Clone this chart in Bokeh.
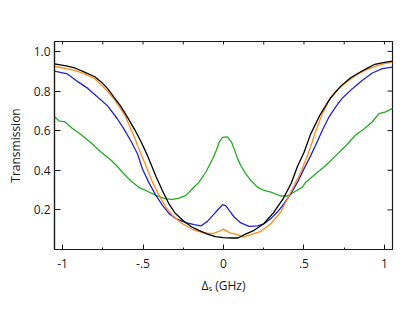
import math
from bokeh.plotting import figure
from bokeh.models import FixedTicker, Range1d
from bokeh.embed import file_html
from bokeh.resources import INLINE

# ---- data ----
black_x = [-1.05, -0.97, -0.92, -0.87, -0.80, -0.76, -0.72, -0.68, -0.64, -0.60, -0.55, -0.51, -0.47,
           -0.42, -0.38, -0.34, -0.30, -0.25, -0.20, -0.15, -0.10, -0.05, 0.0, 0.05, 0.09, 0.13, 0.19,
           0.25, 0.31, 0.37, 0.42, 0.46, 0.50, 0.54, 0.60, 0.665, 0.73, 0.79, 0.85, 0.90, 0.94, 1.0, 1.05]
black_y = [0.937, 0.926, 0.915, 0.898, 0.872, 0.846, 0.812, 0.768, 0.725, 0.672, 0.603, 0.54, 0.47,
           0.37, 0.298, 0.232, 0.183, 0.145, 0.115, 0.095, 0.078, 0.065, 0.06, 0.058, 0.058, 0.075, 0.097,
           0.13, 0.185, 0.255, 0.333, 0.42, 0.49, 0.58, 0.68, 0.765, 0.826, 0.867, 0.896, 0.918, 0.935, 0.945, 0.951]

orange_x = [-1.05, -0.97, -0.92, -0.86, -0.80, -0.74, -0.675, -0.613, -0.55, -0.534, -0.483, -0.441, -0.40,
            -0.359, -0.317, -0.255, -0.193, -0.13, -0.068, -0.027, 0.0, 0.035, 0.087, 0.118, 0.17, 0.232,
            0.294, 0.356, 0.397, 0.439, 0.48, 0.522, 0.55, 0.573, 0.615, 0.656, 0.697, 0.76, 0.821, 0.883,
            0.946, 1.0, 1.05]
orange_y = [0.925, 0.912, 0.903, 0.885, 0.862, 0.816, 0.754, 0.678, 0.56, 0.524, 0.424, 0.34, 0.273,
            0.214, 0.172, 0.13, 0.102, 0.085, 0.08, 0.092, 0.103, 0.085, 0.075, 0.063, 0.075, 0.092,
            0.13, 0.189, 0.256, 0.323, 0.39, 0.474, 0.54, 0.6, 0.686, 0.754, 0.799, 0.842, 0.879, 0.905,
            0.926, 0.938, 0.946]

blue_x = [-1.05, -0.97, -0.903, -0.841, -0.779, -0.72, -0.66, -0.62, -0.576, -0.534, -0.503, -0.462, -0.42,
          -0.379, -0.338, -0.296, -0.234, -0.183, -0.141, -0.10, -0.048, -0.006, 0.015, 0.035, 0.066,
          0.107, 0.159, 0.211, 0.252, 0.294, 0.335, 0.376, 0.418, 0.46, 0.5, 0.542, 0.573, 0.615, 0.656,
          0.697, 0.739, 0.801, 0.863, 0.925, 0.987, 1.05]
blue_y = [0.9, 0.886, 0.846, 0.812, 0.767, 0.725, 0.66, 0.61, 0.549, 0.482, 0.405, 0.335, 0.273,
          0.223, 0.181, 0.156, 0.136, 0.126, 0.119, 0.142, 0.189, 0.226, 0.22, 0.197, 0.164,
          0.134, 0.117, 0.119, 0.13, 0.156, 0.189, 0.231, 0.281, 0.34, 0.407, 0.474, 0.528, 0.603, 0.67,
          0.72, 0.765, 0.812, 0.854, 0.891, 0.913, 0.921]

green_x = [-1.05, -1.02, -0.986, -0.944, -0.882, -0.82, -0.758, -0.696, -0.655, -0.613, -0.572, -0.52,
           -0.483, -0.42, -0.359, -0.317, -0.276, -0.234, -0.193, -0.152, -0.11, -0.068, -0.045, -0.027,
           -0.006, 0.025, 0.05, 0.066, 0.087, 0.107, 0.139, 0.17, 0.211, 0.252, 0.294, 0.356, 0.397, 0.439,
           0.49, 0.511, 0.573, 0.635, 0.697, 0.76, 0.821, 0.873, 0.925, 0.966, 1.008, 1.05]
green_y = [0.67, 0.648, 0.645, 0.615, 0.578, 0.536, 0.49, 0.449, 0.415, 0.377, 0.343, 0.31,
           0.298, 0.273, 0.256, 0.253, 0.259, 0.273, 0.307, 0.34, 0.39, 0.457, 0.5, 0.541,
           0.566, 0.569, 0.541, 0.508, 0.46, 0.424, 0.382, 0.348, 0.315, 0.298, 0.29, 0.27, 0.27, 0.29,
           0.315, 0.34, 0.382, 0.424, 0.474, 0.524, 0.578, 0.608, 0.645, 0.686, 0.695, 0.712]

x_major = [-1, -0.5, 0, 0.5, 1]
x_minor = [-0.75, -0.25, 0.25, 0.75]
x_top_ticks = [-1, -0.75, -0.5, -0.25, 0, 0.25, 0.5, 0.75, 1]
x_labels = {-1: "-1", -0.5: "-.5", 0: "0", 0.5: ".5", 1: "1"}
y_ticks = [0.2, 0.4, 0.6, 0.8, 1.0]
x_lim = (-1.05, 1.05)
y_lim = (0, 1.05)
x_title = "Δₛ (GHz)"
y_title = "Transmission"

FONT = "Open Sans"
AX = "#1a1a1a"

p = figure(width=415, height=312, output_backend="svg", toolbar_location=None,
           x_range=Range1d(*x_lim), y_range=Range1d(*y_lim),
           min_border_left=54, min_border_right=23, min_border_top=41, min_border_bottom=63)
p.xgrid.visible = False
p.ygrid.visible = False
p.outline_line_color = AX
p.outline_line_width = 1.2
p.background_fill_color = "white"
p.border_fill_color = "white"

for color, xs, ys in [("#22aa22", green_x, green_y), ("#2222cc", blue_x, blue_y),
                      ("#ff8c1a", orange_x, orange_y), ("#000000", black_x, black_y)]:
    p.line(xs, ys, line_color=color, line_width=1.3)

# inward ticks on the top and right edges of the frame
p.ray(x=x_top_ticks, y=[y_lim[1]] * len(x_top_ticks), length=3, length_units="screen",
      angle=-math.pi / 2, line_color=AX, line_width=1)
p.ray(x=[x_lim[1]] * len(y_ticks), y=y_ticks, length=5, length_units="screen",
      angle=math.pi, line_color=AX, line_width=1)

xa = p.xaxis[0]
xa.ticker = FixedTicker(ticks=x_major, minor_ticks=x_minor)
xa.major_label_overrides = x_labels
ya = p.yaxis[0]
ya.ticker = FixedTicker(ticks=y_ticks)
ya.major_label_overrides = {v: f"{v:.1f}" for v in y_ticks}

for ax in (xa, ya):
    ax.major_tick_out = 0
    ax.minor_tick_out = 0
    ax.axis_line_color = AX
    ax.axis_line_width = 1.2
    ax.major_tick_line_color = AX
    ax.minor_tick_line_color = AX
    ax.major_label_text_font = FONT
    ax.major_label_text_font_size = "12px"
    ax.major_label_text_color = AX
    ax.axis_label_text_font = FONT
    ax.axis_label_text_font_size = "12px"
    ax.axis_label_text_font_style = "normal"
    ax.axis_label_text_color = AX

xa.major_tick_in = 5
xa.minor_tick_in = 2
xa.major_label_standoff = 9
xa.axis_label = x_title
xa.axis_label_standoff = 6
ya.major_tick_in = 6
ya.minor_tick_in = 0
ya.major_label_standoff = 4
ya.axis_label = y_title
ya.axis_label_standoff = 7

open("out.html", "w").write(file_html(p, INLINE))
